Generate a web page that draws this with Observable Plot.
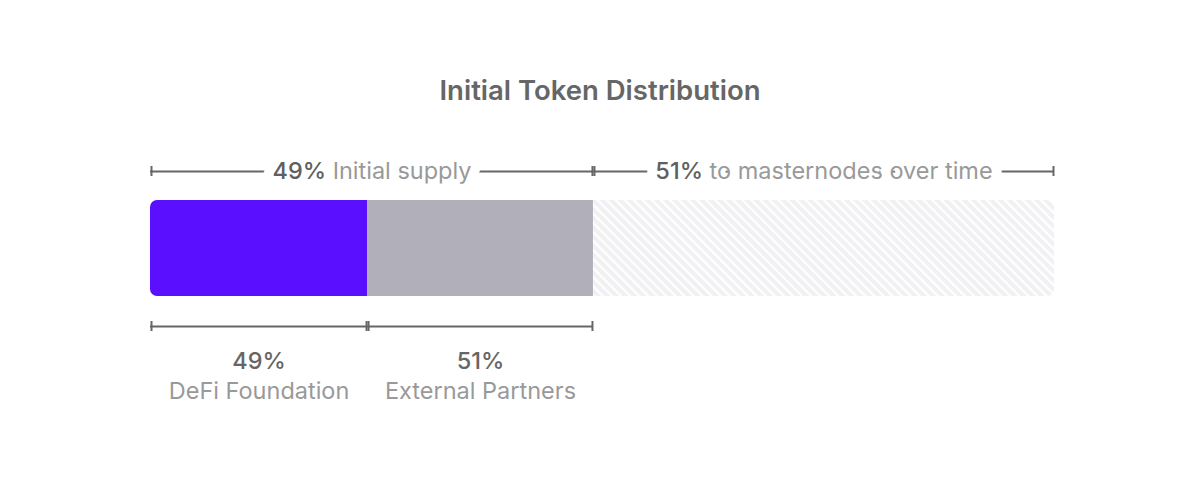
<!DOCTYPE html>
<html><head><meta charset="utf-8">
<script src="https://cdn.jsdelivr.net/npm/d3@7"></script>
<script src="https://cdn.jsdelivr.net/npm/@observablehq/plot@0.6"></script>
<style>
body{margin:0;background:#fff;font-family:Inter, "Noto Sans", sans-serif;}
#title{height:120px;box-sizing:border-box;padding-top:72px;line-height:36px;text-align:center;font-size:27.5px;font-weight:600;color:#666;}
</style></head><body>
<div id="title">Initial Token Distribution</div>
<div id="chart"></div>
<script>
// Top-level phases of total supply (%)
const phaseLabels = ["Initial supply", "to masternodes over time"];
const phasePcts = [49, 51];
// Split of the initial supply (%)
const holderLabels = ["DeFi Foundation", "External Partners"];
const holderPcts = [49, 51];
const segmentColors = ["#5a10ff", "#b1afba", "url(#hatch)"];

// derived tables
const phases = [];
let acc = 0;
phasePcts.forEach((p, i) => { phases.push({x1: acc, x2: acc + p, pct: p, label: phaseLabels[i]}); acc += p; });
const holders = [];
acc = 0;
holderPcts.forEach((p, i) => { const w = phasePcts[0] * p / 100; holders.push({x1: acc, x2: acc + w, pct: p, name: holderLabels[i], fill: segmentColors[i]}); acc += w; });
const segs = [...holders, {x1: phases[1].x1, x2: phases[1].x2, fill: segmentColors[2]}];
const mid = d => (d.x1 + d.x2) / 2;

const H = 360;
const lineColor = "#666";
const fs = 23.5;
const chart = Plot.plot({
  width: 1200, height: H,
  marginLeft: 150, marginRight: 146, marginTop: 0, marginBottom: 0,
  x: {domain: [0, 100], axis: null},
  y: {domain: [0, H], range: [0, H], axis: null},
  color: {type: "identity"},
  style: {fontFamily: "Inter, 'Noto Sans', sans-serif", background: "white"},
  marks: [
    Plot.rect(segs, {x1: "x1", x2: "x2", y1: 80, y2: 176, fill: "fill"}),
    // top brackets
    Plot.ruleY(phases, {x1: "x1", x2: "x2", y: 51, stroke: lineColor, strokeWidth: 2}),
    Plot.ruleX(phases, {x: "x1", y1: 46, y2: 56, dx: 1, stroke: lineColor, strokeWidth: 2}),
    Plot.ruleX(phases, {x: "x2", y1: 46, y2: 56, dx: -1, stroke: lineColor, strokeWidth: 2}),
    Plot.text(phases, {x: mid, y: 51, text: d => `${d.pct}% ${d.label}`, fill: "#999", stroke: "white", strokeWidth: 20, strokeLinejoin: "round", fontSize: fs}),
    // bottom brackets
    Plot.ruleY(holders, {x1: "x1", x2: "x2", y: 206, stroke: lineColor, strokeWidth: 2}),
    Plot.ruleX(holders, {x: "x1", y1: 201, y2: 211, dx: 1, stroke: lineColor, strokeWidth: 2}),
    Plot.ruleX(holders, {x: "x2", y1: 201, y2: 211, dx: -1, stroke: lineColor, strokeWidth: 2}),
    Plot.text(holders, {x: mid, y: 241, text: d => `${d.pct}%`, fill: "#666", fontSize: fs, fontWeight: 500}),
    Plot.text(holders, {x: mid, y: 271, text: "name", fill: "#999", fontSize: fs})
  ]
});

// defs: hatch pattern and rounded clip for the bar
const ns = "http://www.w3.org/2000/svg";
const sx = chart.scale("x"), sy = chart.scale("y");
const defs = document.createElementNS(ns, "defs");
defs.innerHTML = `
<pattern id="hatch" patternUnits="userSpaceOnUse" width="6.4" height="6.4" patternTransform="rotate(-45)">
  <rect width="6.4" height="6.4" fill="#f1f1f4"/><rect width="2.2" height="6.4" fill="#ffffff"/>
</pattern>
<clipPath id="barclip"><rect x="${sx.apply(0)}" y="${sy.apply(80)}" width="${sx.apply(100) - sx.apply(0)}" height="${sy.apply(176) - sy.apply(80)}" rx="7" ry="7"/></clipPath>`;
chart.insertBefore(defs, chart.firstChild);
const rectG = chart.querySelector('g[aria-label="rect"]');
if (rectG) rectG.setAttribute("clip-path", "url(#barclip)");

// two-tone bracket labels
const textGs = chart.querySelectorAll('g[aria-label="text"]');
if (textGs.length) {
  textGs[0].querySelectorAll("text").forEach(t => {
    const s = t.textContent;
    const k = s.indexOf(" ");
    t.textContent = "";
    const a = document.createElementNS(ns, "tspan");
    a.setAttribute("fill", "#606060"); a.setAttribute("font-weight", "500");
    a.textContent = s.slice(0, k);
    const b = document.createElementNS(ns, "tspan");
    b.textContent = s.slice(k);
    t.appendChild(a); t.appendChild(b);
  });
}
document.getElementById("chart").appendChild(chart);
</script>
</body></html>
